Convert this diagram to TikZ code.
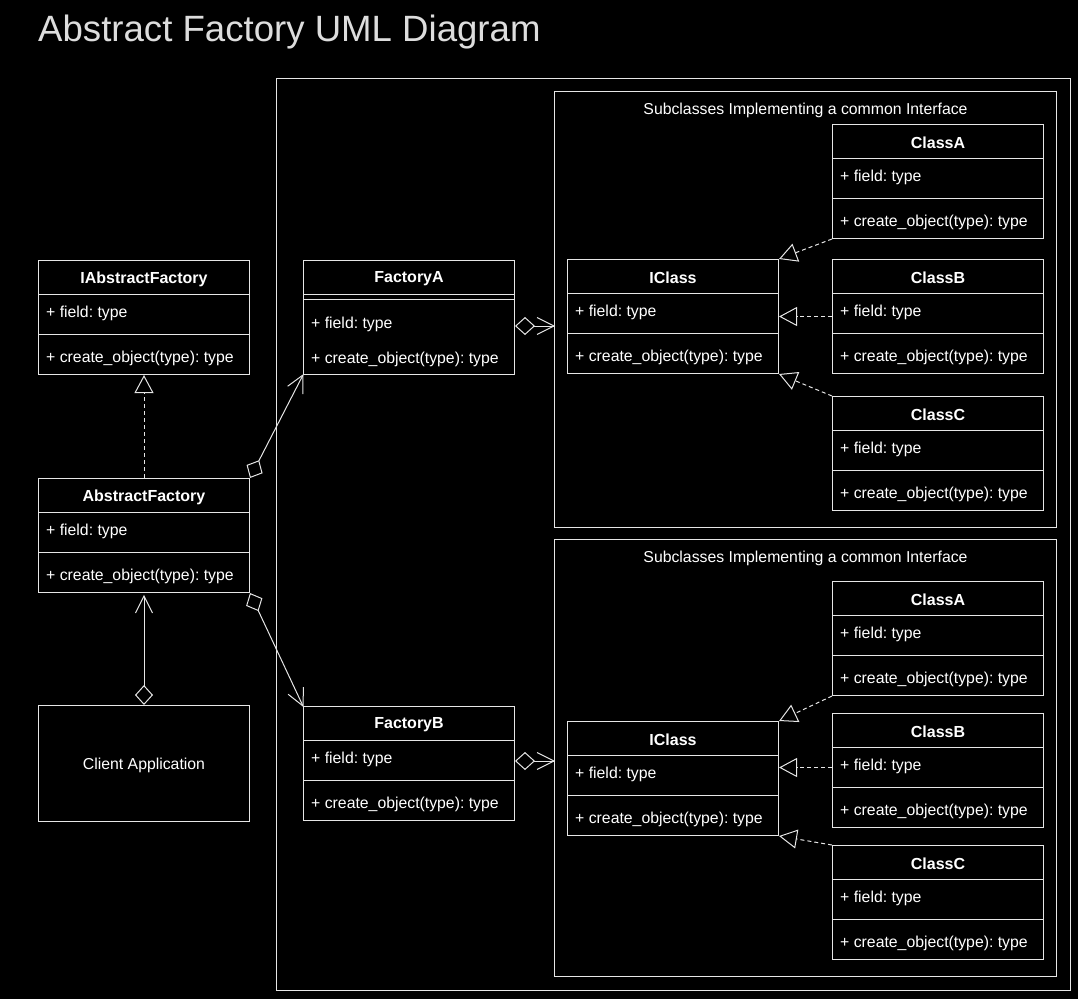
\documentclass[tikz,border=0pt]{standalone}
\usepackage{fontspec}
\setmainfont{Liberation Sans}
\usepackage{tikz}
\usetikzlibrary{arrows.meta,positioning,calc}
\frenchspacing

\definecolor{linegray}{HTML}{E6E6E6}
\definecolor{titlegray}{HTML}{DDDDDD}

\pgfdeclarearrow{
  name=OpenV,
  parameters={\the\pgfarrowlength,\the\pgfarrowwidth},
  setup code={
    \pgfarrowssettipend{0pt}
    \pgfarrowssetlineend{-0.5\pgflinewidth}
    \pgfarrowssetbackend{-\pgfarrowlength}
    \pgfarrowssavethe\pgfarrowlength
    \pgfarrowssavethe\pgfarrowwidth
  },
  drawing code={
    \pgfsetdash{}{0pt}
    \pgfpathmoveto{\pgfqpoint{-\pgfarrowlength}{.5\pgfarrowwidth}}
    \pgfpathlineto{\pgfpointorigin}
    \pgfpathlineto{\pgfqpoint{-\pgfarrowlength}{-.5\pgfarrowwidth}}
    \pgfusepathqstroke
  },
  defaults={length=17pt, width=17pt}
}

\newcommand{\umlclass}[4]{%
  \node[classbox] (#1) at (#2,#3) {};
  \node[titletext] (#1-title) at ($(#1.north)+(0,19)$) {#4};
  \draw[rowline] ($(#1.north west)+(0,34)$) -- ($(#1.north east)+(0,34)$);
  \node[rowtext] (#1-field) at ($(#1.north west)+(8,53)$) {+ field: type};
  \draw[rowline] ($(#1.north west)+(0,74)$) -- ($(#1.north east)+(0,74)$);
  \node[rowtext] (#1-method) at ($(#1.north west)+(8,98)$) {+ create\_object(type): type};
}

\begin{document}
\begin{tikzpicture}[x=1pt, y=-1pt,
    classbox/.style={draw=linegray, line width=1pt, minimum width=211pt, minimum height=114pt, anchor=north west, inner sep=0pt},
    groupbox/.style={draw=linegray, line width=1pt, anchor=north west, inner sep=0pt},
    rowline/.style={draw=linegray, line width=1pt},
    rowtext/.style={anchor=west, inner sep=0pt, text=white, font=\fontsize{15.8}{19}\selectfont},
    titletext/.style={inner sep=0pt, text=white, font=\fontsize{16}{19}\selectfont\bfseries},
    realize/.style={draw=linegray, line width=1pt, dash pattern=on 4pt off 3pt, -{Triangle[open, length=18pt, width=19pt]}},
    assoc/.style={draw=linegray, line width=1pt, {Diamond[open, length=20pt, width=18pt]}-{OpenV[length=17pt, width=17pt]}}
]
\path[use as bounding box, fill=black] (0,0) rectangle (1078,999);

\node[anchor=base west, inner sep=0pt, text=titlegray, font=\fontsize{36.6}{44}\selectfont] (title) at (38,41) {Abstract Factory UML Diagram};

\node[groupbox, minimum width=794pt, minimum height=912pt] (outer) at (276,78) {};
\node[groupbox, minimum width=502pt, minimum height=436pt] (groupA) at (554,91) {};
\node[rowtext, anchor=center] (groupA-label) at ($(groupA.north)+(0,19)$) {Subclasses Implementing a common Interface};
\node[groupbox, minimum width=502pt, minimum height=437pt] (groupB) at (554,539) {};
\node[rowtext, anchor=center] (groupB-label) at ($(groupB.north)+(0,19)$) {Subclasses Implementing a common Interface};

\umlclass{iabsfactory}{38}{260}{IAbstractFactory}
\umlclass{absfactory}{38}{478}{AbstractFactory}
\node[classbox, minimum height=116pt] (client) at (38,705) {};
\node[rowtext, anchor=center] (client-label) at ($(client.center)+(0,2)$) {Client Application};

\node[classbox] (factoryA) at (303,260) {};
\node[titletext] (factoryA-title) at ($(factoryA.north)+(0,19)$) {FactoryA};
\draw[rowline] ($(factoryA.north west)+(0,34)$) -- ($(factoryA.north east)+(0,34)$);
\draw[rowline] ($(factoryA.north west)+(0,39)$) -- ($(factoryA.north east)+(0,39)$);
\node[rowtext] (factoryA-field) at ($(factoryA.north west)+(8,64)$) {+ field: type};
\node[rowtext] (factoryA-method) at ($(factoryA.north west)+(8,99)$) {+ create\_object(type): type};
\umlclass{factoryB}{303}{706}{FactoryB}

\umlclass{iclassA}{567}{259}{IClass}
\umlclass{classA1}{832}{124}{ClassA}
\umlclass{classB1}{832}{259}{ClassB}
\umlclass{classC1}{832}{396}{ClassC}

\umlclass{iclassB}{567}{721}{IClass}
\umlclass{classA2}{832}{581}{ClassA}
\umlclass{classB2}{832}{713}{ClassB}
\umlclass{classC2}{832}{845}{ClassC}

\draw[realize] (absfactory.north) -- (iabsfactory.south);
\draw[assoc, shorten >=3pt] (client.north) -- (absfactory.south);
\draw[assoc] (absfactory.north east) -- (factoryA.south west);
\draw[assoc] (absfactory.south east) -- (factoryB.north west);
\draw[assoc] ([yshift=-2pt]factoryA-field -| factoryA.east) -- ([yshift=-2pt]factoryA-field -| groupA.west);
\draw[assoc] ([yshift=-2pt]factoryB-field -| factoryB.east) -- ([yshift=-2pt]factoryB-field -| groupB.west);

\draw[realize] (classA1.south west) -- (iclassA.north east);
\draw[realize] (classB1.west) -- (iclassA.east);
\draw[realize] (classC1.north west) -- (iclassA.south east);
\draw[realize] ([yshift=3pt]classB2.west) -- ([yshift=3pt]classB2.west -| iclassB.east);
\draw[realize] (classA2.south west) -- (iclassB.north east);
\draw[realize] (classC2.north west) -- (iclassB.south east);
\end{tikzpicture}
\end{document}
